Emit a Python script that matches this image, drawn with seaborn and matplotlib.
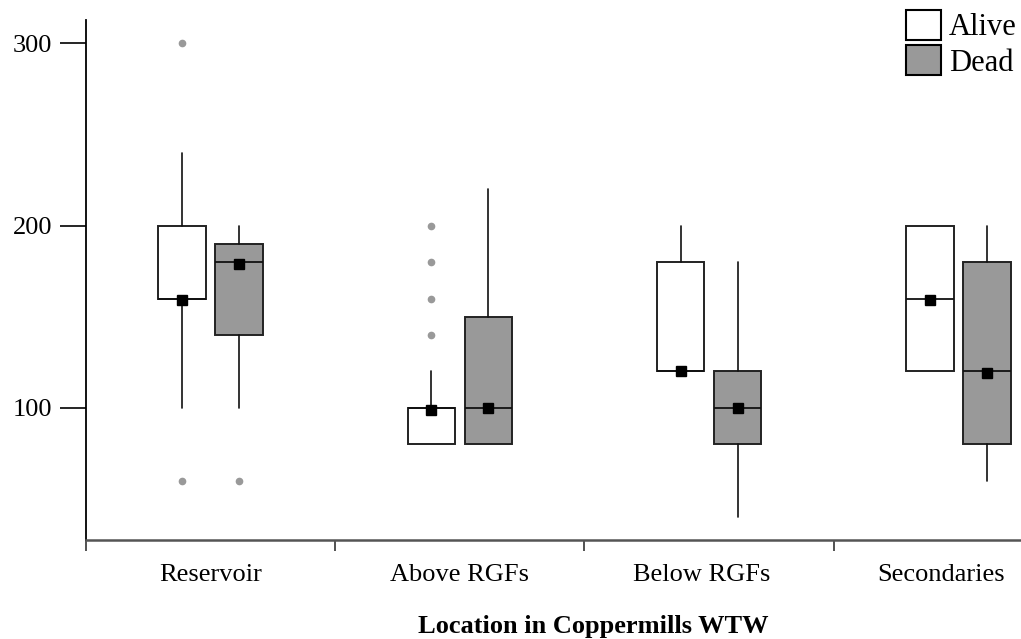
import matplotlib
matplotlib.use("Agg")
import matplotlib.pyplot as plt
import seaborn as sns
from matplotlib.patches import Patch

# box statistics
locations = ["Reservoir", "Above RGFs", "Below RGFs", "Secondaries"]
groups = ["Alive", "Dead"]

alive_q1 = [160, 80, 120, 120]
alive_med = [160, 100, 120, 160]
alive_q3 = [200, 100, 180, 200]
alive_lo = [100, 80, 120, 120]
alive_hi = [240, 120, 200, 200]
alive_mean = [159, 99, 120, 159]
alive_out = [[300, 60], [140, 160, 180, 200], [], []]

dead_q1 = [140, 80, 80, 80]
dead_med = [180, 100, 100, 120]
dead_q3 = [190, 150, 120, 180]
dead_lo = [100, 80, 40, 60]
dead_hi = [200, 220, 180, 200]
dead_mean = [179, 100, 100, 119]
dead_out = [[60], [], [], []]

fills = {"Alive": "white", "Dead": "#999999"}
offsets = {"Alive": -0.114, "Dead": 0.114}
# the original's category labels sit a little left of the box pairs on the right
label_pos = [0, 1, 1.97, 2.93]


def make_stats(q1, med, q3, lo, hi, mean, out):
    return [dict(q1=a, med=b, q3=c, whislo=d, whishi=e, mean=f, fliers=g)
            for a, b, c, d, e, f, g in zip(q1, med, q3, lo, hi, mean, out)]


stats = {
    "Alive": make_stats(alive_q1, alive_med, alive_q3, alive_lo, alive_hi, alive_mean, alive_out),
    "Dead": make_stats(dead_q1, dead_med, dead_q3, dead_lo, dead_hi, dead_mean, dead_out),
}

sns.set_theme(style="white")
plt.rcParams["font.family"] = ["Liberation Serif", "DejaVu Serif"]
plt.rcParams["text.color"] = "black"
plt.rcParams["axes.labelcolor"] = "black"

fig, ax = plt.subplots(figsize=(10.21, 6.39), dpi=100)
fig.subplots_adjust(left=0.084, right=1.0, bottom=0.155, top=0.969)

for g in groups:
    pos = [i + offsets[g] for i in range(len(locations))]
    ax.bxp(stats[g], positions=pos, widths=0.19, patch_artist=True,
           showcaps=False, showmeans=True,
           boxprops=dict(facecolor=fills[g], edgecolor="#222222", linewidth=1.4),
           medianprops=dict(color="#111111", linewidth=1.3),
           whiskerprops=dict(color="#111111", linewidth=1.2),
           meanprops=dict(marker="s", markerfacecolor="black", markeredgecolor="black",
                          markersize=7),
           flierprops=dict(marker="o", markerfacecolor="#999999", markeredgecolor="#999999",
                           markersize=4.5),
           manage_ticks=False)

ax.set_xlim(-0.5, -0.5 + 935 / 249.3)
ax.set_ylim(27.5, 313)

# x: boundary ticks, labels at centres
ax.set_xticks([-0.5, 0.5, 1.5, 2.5])
ax.set_xticklabels([])
ax.set_xticks(label_pos, minor=True)
ax.set_xticklabels(locations, minor=True, fontsize=19)
ax.tick_params(axis="x", which="major", direction="out", length=8, width=1.2,
               color="#333333", bottom=True)
ax.tick_params(axis="x", which="minor", length=0, pad=17, labelcolor="black")

ax.set_yticks([100, 200, 300])
ax.set_yticklabels(["100", "200", "300"], fontsize=19)
ax.tick_params(axis="y", direction="out", length=19, width=1.2, color="black",
               left=True, pad=5, labelcolor="black")

ax.set_xlabel("Location in Coppermills WTW", fontsize=19, fontweight="bold", labelpad=20)
ax.xaxis.set_label_coords(0.543, -0.145)
ax.xaxis.label.set_verticalalignment("top")

for s in ["top", "right"]:
    ax.spines[s].set_visible(False)
ax.spines["left"].set_color("black")
ax.spines["left"].set_linewidth(1.3)
ax.spines["bottom"].set_color("#555555")
ax.spines["bottom"].set_linewidth(1.8)

handles = [Patch(facecolor=fills[g], edgecolor="black", linewidth=1.5) for g in groups]
fig.legend(handles, groups, loc="upper right", bbox_to_anchor=(0.996, 0.985),
           frameon=False, fontsize=22, handlelength=1.14, handleheight=1.15,
           handletextpad=0.26, labelspacing=0.1, borderpad=0, borderaxespad=0)

fig.savefig("out.png", dpi=100)
